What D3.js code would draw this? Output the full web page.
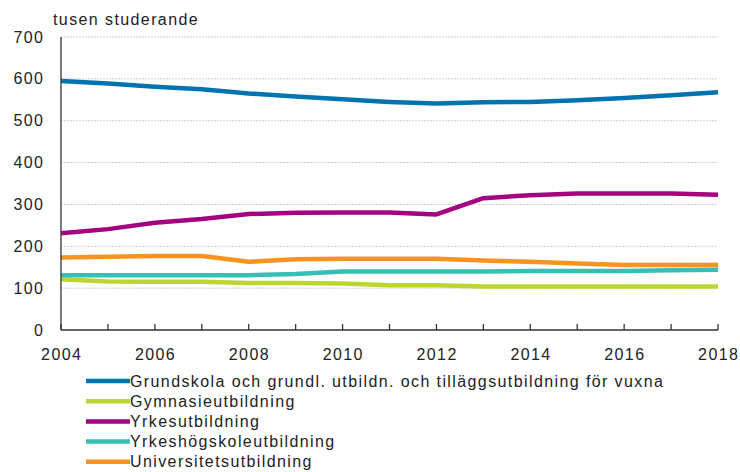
<!DOCTYPE html>
<html>
<head>
<meta charset="utf-8">
<script src="https://cdn.jsdelivr.net/npm/d3@7"></script>
<style>
  body { margin: 0; background: #fff; }
  text { font-family: "Liberation Sans", Arial, sans-serif; fill: #222; letter-spacing: 1.4px; }
</style>
</head>
<body>
<div id="chart"></div>
<script>
// Data (tusen studerande)
const years = [2004, 2005, 2006, 2007, 2008, 2009, 2010, 2011, 2012, 2013, 2014, 2015, 2016, 2017, 2018];
const grundskola = [595, 589, 581, 575, 565, 558, 551, 545, 541, 544, 545, 549, 554, 561, 568];
const gymnasie = [121, 116, 115, 115, 112, 112, 111, 107, 107, 104, 104, 104, 104, 104, 104];
const yrkes = [231, 241, 256, 265, 277, 280, 281, 281, 276, 315, 322, 326, 326, 326, 323];
const yrkeshogskole = [131, 131, 131, 131, 131, 134, 140, 140, 140, 140, 141, 141, 141, 143, 144];
const universitet = [173, 175, 177, 177, 163, 169, 170, 170, 170, 166, 163, 159, 155, 155, 155];
const seriesNames = [
  "Grundskola och grundl. utbildn. och tilläggsutbildning för vuxna",
  "Gymnasieutbildning",
  "Yrkesutbildning",
  "Yrkeshögskoleutbildning",
  "Universitetsutbildning"
];
const colors = ["#0073b0", "#bcd631", "#a3037e", "#36bfb5", "#f7931e"];
const yTicks = [0, 100, 200, 300, 400, 500, 600, 700];
const xTicks = [2004, 2006, 2008, 2010, 2012, 2014, 2016, 2018];

const series = [grundskola, gymnasie, yrkes, yrkeshogskole, universitet];

const W = 740, H = 472;
const margin = { top: 37, right: 22, bottom: 142, left: 61 },
      width = W - margin.left - margin.right,
      height = H - margin.top - margin.bottom;

const svg = d3.select("#chart").append("svg")
    .attr("width", W)
    .attr("height", H);

const g = svg.append("g")
    .attr("transform", `translate(${margin.left}, ${margin.top})`);

const x = d3.scaleLinear().domain([2004, 2018]).range([0, width]);
const y = d3.scaleLinear().domain([0, 700]).range([height, 0]);

// gridlines
g.selectAll(".grid")
    .data(yTicks.filter(d => d > 0))
    .enter().append("line")
    .attr("x1", 0)
    .attr("x2", width)
    .attr("y1", d => y(d))
    .attr("y2", d => y(d))
    .attr("stroke", "#cfcfcf")
    .attr("stroke-width", 1)
    .attr("stroke-dasharray", "2,1");

// y labels
g.selectAll(".ylab")
    .data(yTicks)
    .enter().append("text")
    .attr("x", -16.6)
    .attr("y", d => y(d))
    .attr("dy", "0.35em")
    .attr("text-anchor", "end")
    .style("font-size", "16px")
    .text(d => d);

// y axis title
svg.append("text")
    .attr("x", 53)
    .attr("y", 25)
    .style("font-size", "16px")
    .text("tusen studerande");

// lines
const line = d3.line()
    .x((d, i) => x(years[i]))
    .y(d => y(d));

series.forEach((s, i) => {
    g.append("path")
        .datum(s)
        .attr("fill", "none")
        .attr("stroke", colors[i])
        .attr("stroke-width", 4.5)
        .attr("stroke-linejoin", "round")
        .attr("d", line);
});

// axes
g.append("line")
    .attr("x1", 0).attr("x2", 0)
    .attr("y1", 0).attr("y2", height)
    .attr("stroke", "#333").attr("stroke-width", 1.3);

g.append("line")
    .attr("x1", 0).attr("x2", width)
    .attr("y1", height).attr("y2", height)
    .attr("stroke", "#333").attr("stroke-width", 1.5);

g.selectAll(".xtick")
    .data(years)
    .enter().append("line")
    .attr("x1", d => x(d)).attr("x2", d => x(d))
    .attr("y1", height - 6).attr("y2", height)
    .attr("stroke", "#333").attr("stroke-width", 1.3);

g.selectAll(".xlab")
    .data(xTicks)
    .enter().append("text")
    .attr("x", d => x(d) + 0.7)
    .attr("y", height + 30)
    .attr("text-anchor", "middle")
    .style("font-size", "16px")
    .text(d => d);

// legend
const legend = svg.append("g")
    .attr("transform", "translate(86, 381)");

seriesNames.forEach((name, i) => {
    const row = legend.append("g")
        .attr("transform", `translate(0, ${i * 20.2})`);
    row.append("line")
        .attr("x1", 0).attr("x2", 44)
        .attr("y1", 0).attr("y2", 0)
        .attr("stroke", colors[i])
        .attr("stroke-width", 4.5);
    row.append("text")
        .attr("x", 44)
        .attr("y", 0)
        .attr("dy", "0.35em")
        .style("font-size", "16px")
        .text(name);
});
</script>
</body>
</html>
